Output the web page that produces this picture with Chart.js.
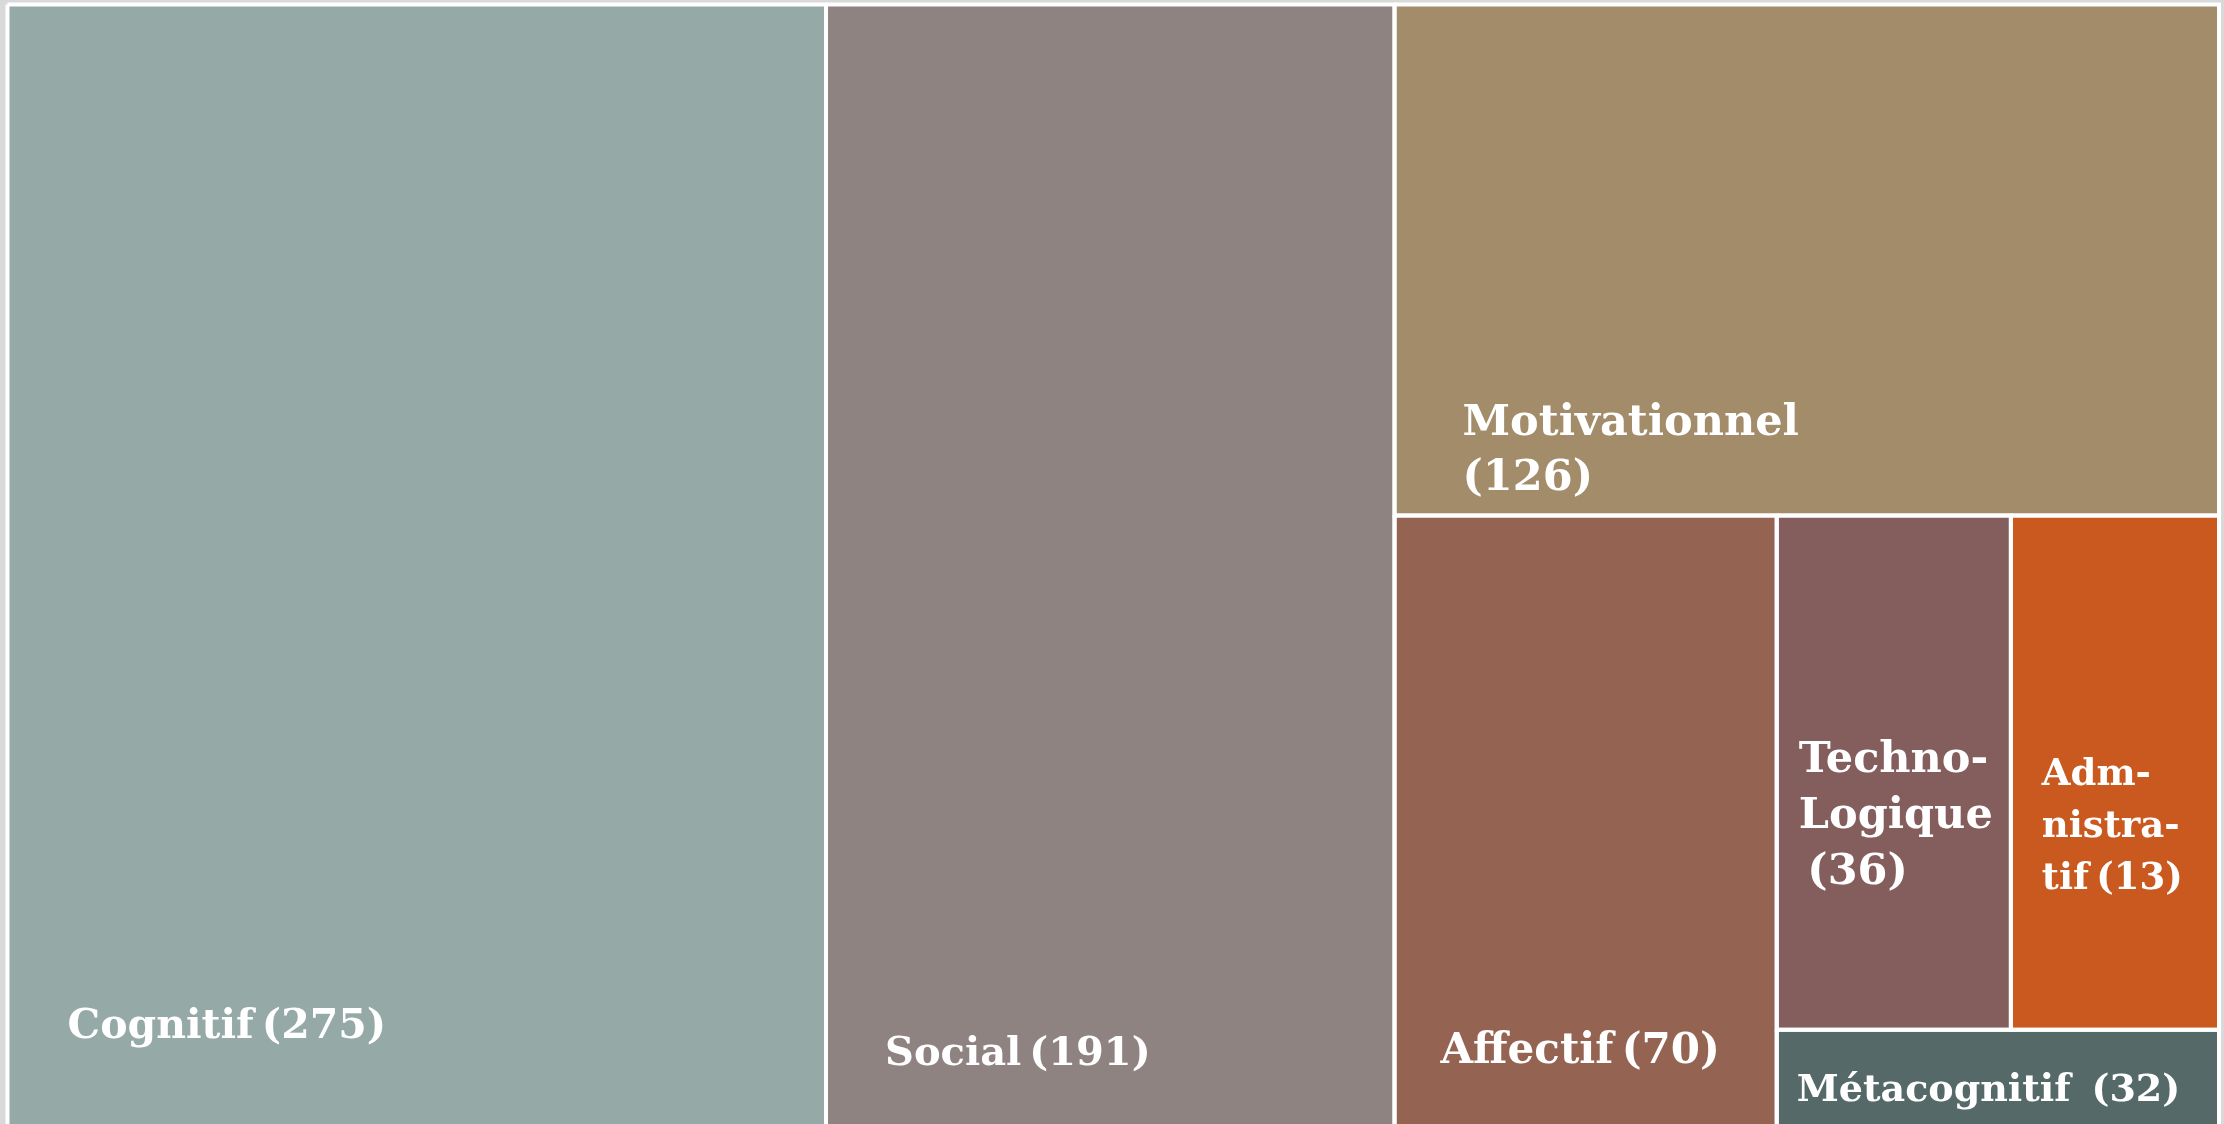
<!DOCTYPE html>
<html><head><meta charset="utf-8">
<script src="https://cdn.jsdelivr.net/npm/chart.js@4/dist/chart.umd.min.js"></script>
<style>
html,body{margin:0;padding:0;background:#d9d9d9;overflow:hidden;width:2224px;height:1124px}
#wrap{position:absolute;left:0;top:0;width:2224px;height:1132px}
</style></head><body><div id="wrap"><canvas id="c"></canvas></div>
<script>
// ---- data ----
const categories = ['Cognitif','Social','Motivationnel','Affectif','Technologique','Administratif','Métacognitif'];
// counts as printed in the labels
const counts = [275, 191, 126, 70, 36, 13, 32];
const cellSizes = [275, 191, 126, 70, 36, 32, 13];
// label wording (with the picture's hyphenation)
const labelWords = [['Cognitif'], ['Social'], ['Motivationnel'], ['Affectif'], ['Techno-','Logique'], ['Adm-','nistra-','tif'], ['Métacognitif']];
const countOnOwnLine = [false, false, true, false, true, false, false];
const countSep = ['\u2009', '\u2009', '', '\u2009', '\u2009', '\u2009', ' \u2009'];
const colors = ['#95a9a7', '#8f8382', '#a38c6a', '#956352', '#845d5d', '#c9591f', '#556a68'];
// tiling structure: 'row' = side by side, 'col' = stacked (first on top)
const tiling = {dir:'row', kids:[0, 1, {dir:'col', kids:[2, {dir:'row', kids:[3, {dir:'col', kids:[{dir:'row', kids:[4, 5]}, 6]}]}]}]};
// label styles (px offsets from the cell's top-left corner)
const labelStyle = [
  {pad:60, base:1033, lh:54, size:41},
  {pad:59, base:1060, lh:54, size:40},
  {pad:68, base:430, lh:55, size:43},
  {pad:46, base:547, lh:54, size:42},
  {pad:22, base:256, lh:56, size:43},
  {pad:31, base:269, lh:52, size:37},
  {pad:20, base:71, lh:54, size:38}
];

// ---- slice/dice tiling in data units: x in [0,total], y in [0,1] ----
function sizeOf(n){ return typeof n === 'number' ? cellSizes[n] : n.kids.reduce((s,k)=>s+sizeOf(k),0); }
const total = sizeOf(tiling);
const rects = [];
function tile(n, x0, x1, y0, y1){
  if (typeof n === 'number'){ rects[n] = {x0,x1,y0,y1}; return; }
  const s = sizeOf(n); let acc = 0;
  n.kids.forEach(k=>{
    const f0 = acc/s; acc += sizeOf(k); const f1 = acc/s;
    if (n.dir === 'row') tile(k, x0+(x1-x0)*f0, x0+(x1-x0)*f1, y0, y1);
    else tile(k, x0, x1, y0+(y1-y0)*f0, y0+(y1-y0)*f1);
  });
}
tile(tiling, 0, total, 0, 1);

const datasets = categories.map((c,i)=>{
  const r = rects[i];
  return {
    label: c,
    data: [{x:r.x0,y:r.y0},{x:r.x1,y:r.y0},{x:r.x1,y:r.y1},{x:r.x0,y:r.y1},{x:r.x0,y:r.y0}],
    showLine: true, fill: 'shape', tension: 0,
    backgroundColor: colors[i], borderColor: '#ffffff', borderWidth: 4,
    borderJoinStyle: 'miter', pointRadius: 0, pointHoverRadius: 0, clip: false
  };
});

const labelPlugin = {
  id: 'cellLabels',
  afterDatasetsDraw(chart){
    const ctx = chart.ctx, xs = chart.scales.x, ys = chart.scales.y;
    ctx.save();
    ctx.fillStyle = '#ffffff';
    ctx.textBaseline = 'alphabetic';
    ctx.textAlign = 'left';
    categories.forEach((c,i)=>{
      const r = rects[i], st = labelStyle[i];
      const left = xs.getPixelForValue(r.x0), top = ys.getPixelForValue(r.y0);
      const lines = labelWords[i].slice();
      const num = '(' + counts[i] + ')';
      if (countOnOwnLine[i]) lines.push(countSep[i] + num);
      else lines[lines.length-1] += countSep[i] + num;
      ctx.font = 'bold ' + st.size + 'px "DejaVu Serif"';
      lines.forEach((t,j)=> ctx.fillText(t, left + st.pad, top + st.base + j*st.lh));
    });
    ctx.restore();
  }
};

new Chart(document.getElementById('c'), {
  type: 'scatter',
  data: { datasets },
  options: {
    responsive: true, maintainAspectRatio: false, animation: false,
    layout: { padding: { left: 7.5, right: 5, top: 4.5, bottom: 4 } },
    scales: {
      x: { type:'linear', min:0, max: total, display:false },
      y: { type:'linear', min:0, max:1, reverse:true, display:false }
    },
    plugins: { legend:{display:false}, tooltip:{enabled:false}, filler:{drawTime:'beforeDatasetsDraw'} },
    events: []
  },
  plugins: [labelPlugin]
});
</script></body></html>
